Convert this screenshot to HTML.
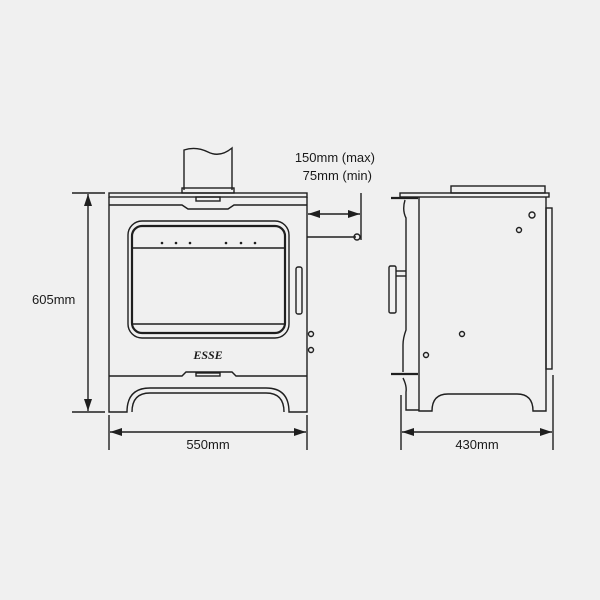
<!DOCTYPE html>
<html><head><meta charset="utf-8"><style>
html,body{margin:0;padding:0;background:#f0f0f0}
svg{display:block}
text{font-family:"Liberation Sans",sans-serif;font-size:13px;fill:#1a1a1a}
</style></head><body>
<svg width="600" height="600" viewBox="0 0 600 600" xmlns="http://www.w3.org/2000/svg">
<rect width="600" height="600" fill="#f0f0f0"/>
<defs>
<marker id="a" markerWidth="12" markerHeight="8" refX="12" refY="4" orient="auto" markerUnits="userSpaceOnUse"><path d="M0,0 L12,4 L0,8 Z" fill="#1f1f1f"/></marker>
</defs>
<g fill="none" stroke="#1f1f1f" stroke-width="1.4">
<path d="M184,190 L184,150 Q196,146 208,152 Q220,158 232,148 L232,190" fill="#f0f0f0"/>
<rect x="182" y="188" width="52" height="5"/>
<rect x="109" y="193" width="198" height="4"/>
<path d="M109,197 L109,412 L127,412 Q127,388 150,388 L266,388 Q289,388 289,412 L307,412 L307,197"/>
<path d="M109,205 L182,205 L188,209 L228,209 L234,205 L307,205"/>
<rect x="196" y="197" width="24" height="4"/>
<rect x="128" y="221" width="161" height="117" rx="14"/>
<rect x="132" y="226" width="153" height="107" rx="10" stroke-width="2.2"/>
<line x1="132" y1="248" x2="285" y2="248"/>
<line x1="132" y1="324" x2="285" y2="324"/>
<rect x="296" y="267" width="6" height="47" rx="2"/>
<path d="M109,376 L182,376 L186,372 L232,372 L236,376 L307,376"/>
<rect x="196" y="373" width="24" height="3"/>
<path d="M132,412 Q132,393 150,393 L266,393 Q284,393 284,412"/>
<circle cx="311" cy="334" r="2.5"/><circle cx="311" cy="350" r="2.5"/>
<line x1="307" y1="237" x2="356" y2="237"/>
<circle cx="357" cy="237" r="3"/>
<line x1="361" y1="193" x2="361" y2="240"/>
<rect x="451" y="186" width="94" height="7"/>
<rect x="400" y="193" width="149" height="4"/>
<path d="M419,197 L419,411 L432,411 Q432,394 448,394 L517,394 Q533,394 533,411 L546,411 L546,197"/>
<rect x="546" y="208" width="6" height="161"/>
<path d="M405,200 Q402,210 406,218 L406,330 Q403,338 403,345 L403,372 M403,378 Q407,386 406,392 L406,410 L419,410"/>
<line x1="391" y1="198" x2="418" y2="198" stroke-width="2.2"/>
<line x1="391" y1="374" x2="418" y2="374" stroke-width="2.2"/>
<rect x="389" y="266" width="7" height="47" rx="1.5"/>
<line x1="396" y1="271" x2="406" y2="271"/><line x1="396" y1="276" x2="406" y2="276"/>
<circle cx="532" cy="215" r="3"/><circle cx="519" cy="230" r="2.5"/>
<circle cx="462" cy="334" r="2.5"/><circle cx="426" cy="355" r="2.5"/>
</g>
<g fill="#1f1f1f">
<circle cx="162" cy="243" r="1.3"/><circle cx="176" cy="243" r="1.3"/><circle cx="190" cy="243" r="1.3"/>
<circle cx="226" cy="243" r="1.3"/><circle cx="241" cy="243" r="1.3"/><circle cx="255" cy="243" r="1.3"/>
</g>
<g stroke="#1f1f1f" stroke-width="1.4" fill="none">
<line x1="72" y1="193" x2="105" y2="193"/><line x1="72" y1="412" x2="105" y2="412"/>
<line x1="88" y1="300" x2="88" y2="194" marker-end="url(#a)"/>
<line x1="88" y1="300" x2="88" y2="411" marker-end="url(#a)"/>
<line x1="109" y1="415" x2="109" y2="450"/><line x1="307" y1="415" x2="307" y2="450"/>
<line x1="208" y1="432" x2="110" y2="432" marker-end="url(#a)"/>
<line x1="208" y1="432" x2="306" y2="432" marker-end="url(#a)"/>
<line x1="334" y1="214" x2="308" y2="214" marker-end="url(#a)"/>
<line x1="334" y1="214" x2="360" y2="214" marker-end="url(#a)"/>
<line x1="401" y1="395" x2="401" y2="450"/><line x1="553" y1="375" x2="553" y2="450"/>
<line x1="477" y1="432" x2="402" y2="432" marker-end="url(#a)"/>
<line x1="477" y1="432" x2="552" y2="432" marker-end="url(#a)"/>
</g>
<text x="32" y="304">605mm</text>
<text x="208" y="449" text-anchor="middle">550mm</text>
<text x="477" y="449" text-anchor="middle">430mm</text>
<text x="375" y="162" text-anchor="end">150mm (max)</text>
<text x="372" y="180" text-anchor="end">75mm (min)</text>
<text x="208" y="359" text-anchor="middle" style="font-family:'Liberation Serif',serif;font-style:italic;font-weight:bold;font-size:12px">ESSE</text>
</svg>
</body></html>
